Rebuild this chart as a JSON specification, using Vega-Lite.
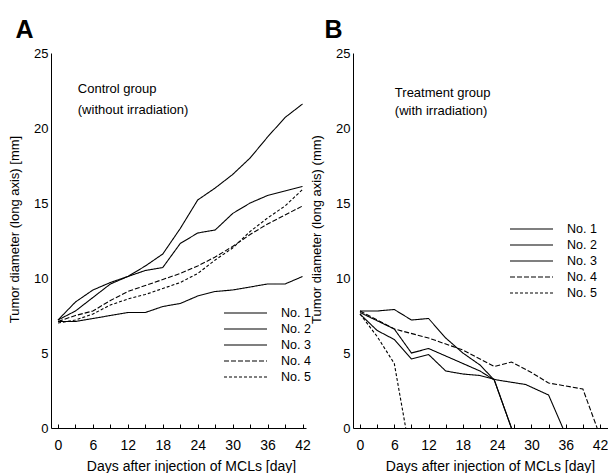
{
  "$schema": "https://vega.github.io/schema/vega-lite/v6.json",
  "padding": {"left": 8, "top": 18, "right": 0, "bottom": 0},
  "autosize": {"type": "pad"},
  "background": "white",
  "spacing": -1,
  "config": {
    "font": "Liberation Sans",
    "view": {"stroke": null},
    "axis": {"domainColor": "black", "tickColor": "black", "labelColor": "black", "titleColor": "black", "grid": false, "labelFont": "Liberation Sans", "titleFont": "Liberation Sans", "titleFontWeight": "normal", "labelOverlap": false, "labelFlush": false},
    "title": {"font": "Liberation Sans", "fontSize": 25, "fontWeight": "bold", "anchor": "start", "frame": "bounds", "color": "black"},
    "legend": {"orient": "none", "title": null, "padding": 0, "symbolType": "stroke", "symbolSize": 1850, "symbolStrokeWidth": 1.1, "symbolStrokeColor": "black", "clipHeight": 16, "rowPadding": 0, "labelOffset": 13, "labelFontSize": 12.5, "labelColor": "black", "labelFont": "Liberation Sans"}
  },
  "datasets": {
    "control": [
      {"mouse": "No. 1", "day": 0, "mm": 7.2}, {"mouse": "No. 1", "day": 3, "mm": 8.4}, {"mouse": "No. 1", "day": 6, "mm": 9.2}, {"mouse": "No. 1", "day": 9, "mm": 9.7}, {"mouse": "No. 1", "day": 12, "mm": 10.1}, {"mouse": "No. 1", "day": 15, "mm": 10.8}, {"mouse": "No. 1", "day": 18, "mm": 11.6}, {"mouse": "No. 1", "day": 21, "mm": 13.3}, {"mouse": "No. 1", "day": 24, "mm": 15.2}, {"mouse": "No. 1", "day": 27, "mm": 16.0}, {"mouse": "No. 1", "day": 30, "mm": 16.9}, {"mouse": "No. 1", "day": 33, "mm": 18.0}, {"mouse": "No. 1", "day": 36, "mm": 19.4}, {"mouse": "No. 1", "day": 39, "mm": 20.7}, {"mouse": "No. 1", "day": 42, "mm": 21.6},
      {"mouse": "No. 2", "day": 0, "mm": 7.2}, {"mouse": "No. 2", "day": 3, "mm": 7.8}, {"mouse": "No. 2", "day": 6, "mm": 8.7}, {"mouse": "No. 2", "day": 9, "mm": 9.6}, {"mouse": "No. 2", "day": 12, "mm": 10.1}, {"mouse": "No. 2", "day": 15, "mm": 10.5}, {"mouse": "No. 2", "day": 18, "mm": 10.7}, {"mouse": "No. 2", "day": 21, "mm": 12.3}, {"mouse": "No. 2", "day": 24, "mm": 13.0}, {"mouse": "No. 2", "day": 27, "mm": 13.2}, {"mouse": "No. 2", "day": 30, "mm": 14.3}, {"mouse": "No. 2", "day": 33, "mm": 15.0}, {"mouse": "No. 2", "day": 36, "mm": 15.5}, {"mouse": "No. 2", "day": 39, "mm": 15.8}, {"mouse": "No. 2", "day": 42, "mm": 16.1},
      {"mouse": "No. 3", "day": 0, "mm": 7.1}, {"mouse": "No. 3", "day": 3, "mm": 7.1}, {"mouse": "No. 3", "day": 6, "mm": 7.3}, {"mouse": "No. 3", "day": 9, "mm": 7.5}, {"mouse": "No. 3", "day": 12, "mm": 7.7}, {"mouse": "No. 3", "day": 15, "mm": 7.7}, {"mouse": "No. 3", "day": 18, "mm": 8.1}, {"mouse": "No. 3", "day": 21, "mm": 8.3}, {"mouse": "No. 3", "day": 24, "mm": 8.8}, {"mouse": "No. 3", "day": 27, "mm": 9.1}, {"mouse": "No. 3", "day": 30, "mm": 9.2}, {"mouse": "No. 3", "day": 33, "mm": 9.4}, {"mouse": "No. 3", "day": 36, "mm": 9.6}, {"mouse": "No. 3", "day": 39, "mm": 9.6}, {"mouse": "No. 3", "day": 42, "mm": 10.1},
      {"mouse": "No. 4", "day": 0, "mm": 7.1}, {"mouse": "No. 4", "day": 3, "mm": 7.5}, {"mouse": "No. 4", "day": 6, "mm": 7.8}, {"mouse": "No. 4", "day": 9, "mm": 8.5}, {"mouse": "No. 4", "day": 12, "mm": 9.1}, {"mouse": "No. 4", "day": 15, "mm": 9.5}, {"mouse": "No. 4", "day": 18, "mm": 9.9}, {"mouse": "No. 4", "day": 21, "mm": 10.3}, {"mouse": "No. 4", "day": 24, "mm": 10.8}, {"mouse": "No. 4", "day": 27, "mm": 11.4}, {"mouse": "No. 4", "day": 30, "mm": 12.1}, {"mouse": "No. 4", "day": 33, "mm": 12.9}, {"mouse": "No. 4", "day": 36, "mm": 13.6}, {"mouse": "No. 4", "day": 39, "mm": 14.2}, {"mouse": "No. 4", "day": 42, "mm": 14.8},
      {"mouse": "No. 5", "day": 0, "mm": 7.0}, {"mouse": "No. 5", "day": 3, "mm": 7.2}, {"mouse": "No. 5", "day": 6, "mm": 7.6}, {"mouse": "No. 5", "day": 9, "mm": 8.2}, {"mouse": "No. 5", "day": 12, "mm": 8.6}, {"mouse": "No. 5", "day": 15, "mm": 8.9}, {"mouse": "No. 5", "day": 18, "mm": 9.3}, {"mouse": "No. 5", "day": 21, "mm": 9.7}, {"mouse": "No. 5", "day": 24, "mm": 10.3}, {"mouse": "No. 5", "day": 27, "mm": 11.2}, {"mouse": "No. 5", "day": 30, "mm": 12.0}, {"mouse": "No. 5", "day": 33, "mm": 13.1}, {"mouse": "No. 5", "day": 36, "mm": 14.0}, {"mouse": "No. 5", "day": 39, "mm": 14.8}, {"mouse": "No. 5", "day": 42, "mm": 15.9}
    ],
    "treatment": [
      {"mouse": "No. 1", "day": 0, "mm": 7.8}, {"mouse": "No. 1", "day": 3, "mm": 7.8}, {"mouse": "No. 1", "day": 6, "mm": 7.9}, {"mouse": "No. 1", "day": 9, "mm": 7.2}, {"mouse": "No. 1", "day": 12, "mm": 7.3}, {"mouse": "No. 1", "day": 15, "mm": 6.0}, {"mouse": "No. 1", "day": 18, "mm": 5.0}, {"mouse": "No. 1", "day": 21, "mm": 4.2}, {"mouse": "No. 1", "day": 23.5, "mm": 3.2}, {"mouse": "No. 1", "day": 26.5, "mm": 0},
      {"mouse": "No. 2", "day": 0, "mm": 7.6}, {"mouse": "No. 2", "day": 3, "mm": 6.5}, {"mouse": "No. 2", "day": 6, "mm": 5.9}, {"mouse": "No. 2", "day": 9, "mm": 4.6}, {"mouse": "No. 2", "day": 12, "mm": 4.9}, {"mouse": "No. 2", "day": 15, "mm": 3.8}, {"mouse": "No. 2", "day": 18, "mm": 3.6}, {"mouse": "No. 2", "day": 21, "mm": 3.5}, {"mouse": "No. 2", "day": 24, "mm": 3.2}, {"mouse": "No. 2", "day": 29, "mm": 2.9}, {"mouse": "No. 2", "day": 33, "mm": 2.2}, {"mouse": "No. 2", "day": 35.5, "mm": 0},
      {"mouse": "No. 3", "day": 0, "mm": 7.7}, {"mouse": "No. 3", "day": 6, "mm": 6.6}, {"mouse": "No. 3", "day": 9, "mm": 5.0}, {"mouse": "No. 3", "day": 12, "mm": 5.3}, {"mouse": "No. 3", "day": 15, "mm": 4.8}, {"mouse": "No. 3", "day": 18, "mm": 4.3}, {"mouse": "No. 3", "day": 21, "mm": 3.8}, {"mouse": "No. 3", "day": 23.5, "mm": 3.2}, {"mouse": "No. 3", "day": 26.5, "mm": 0},
      {"mouse": "No. 4", "day": 0, "mm": 7.8}, {"mouse": "No. 4", "day": 6, "mm": 6.6}, {"mouse": "No. 4", "day": 12, "mm": 6.0}, {"mouse": "No. 4", "day": 18, "mm": 5.2}, {"mouse": "No. 4", "day": 23.5, "mm": 4.1}, {"mouse": "No. 4", "day": 26.5, "mm": 4.4}, {"mouse": "No. 4", "day": 30, "mm": 3.7}, {"mouse": "No. 4", "day": 33, "mm": 3.0}, {"mouse": "No. 4", "day": 39, "mm": 2.6}, {"mouse": "No. 4", "day": 41.5, "mm": 0},
      {"mouse": "No. 5", "day": 0, "mm": 7.6}, {"mouse": "No. 5", "day": 3, "mm": 6.1}, {"mouse": "No. 5", "day": 6, "mm": 4.3}, {"mouse": "No. 5", "day": 8, "mm": 0}
    ]
  },
  "hconcat": [
    {
      "width": 255,
      "height": 375,
      "title": {"text": "A", "dx": 7, "offset": 4},
      "layer": [
        {
          "data": {"name": "control"},
          "mark": {"type": "line", "color": "black", "strokeWidth": 1.1},
          "encoding": {
            "x": {"field": "day", "type": "quantitative", "scale": {"domain": [-1.2, 42.6], "nice": false, "zero": false},
              "axis": {"values": [0, 3, 6, 9, 12, 15, 18, 21, 24, 27, 30, 33, 36, 39, 42], "tickCount": 30, "labelExpr": "datum.value % 6 === 0 ? datum.label : ''", "labelOverlap": false, "tickSize": -4, "labelPadding": 14, "labelFontSize": 14, "title": "Days after  injection of MCLs [day]", "titleFontSize": 14, "titleX": 140, "titleY": 38, "titleBaseline": "middle", "titleAlign": "center"}},
            "y": {"field": "mm", "type": "quantitative", "scale": {"domain": [0, 25], "nice": false},
              "axis": {"values": [0, 5, 10, 15, 20, 25], "ticks": false, "labelPadding": 3, "labelFontSize": 13, "title": "Tumor diameter (long axis) [mm]", "titleFontSize": 13, "titlePadding": 12, "titleY": 176}},
            "strokeDash": {"field": "mouse", "type": "nominal", "scale": {"domain": ["No. 1", "No. 2", "No. 3", "No. 4", "No. 5"], "range": [[1, 0], [1, 0], [1, 0], [5, 2], [3, 2]]},
              "legend": {"legendX": 172, "legendY": 252}}
          }
        },
        {
          "data": {"values": [{"group": "control"}]},
          "mark": {"type": "text", "align": "left", "baseline": "top", "fontSize": 13, "lineHeight": 21, "color": "black", "text": ["Control group", "(without irradiation)"]},
          "encoding": {"x": {"datum": 3.4}, "y": {"datum": 23.0}}
        }
      ]
    },
    {
      "width": 255,
      "height": 375,
      "title": {"text": "B", "dx": 14, "offset": 4},
      "layer": [
        {
          "data": {"name": "treatment"},
          "mark": {"type": "line", "color": "black", "strokeWidth": 1.1},
          "encoding": {
            "x": {"field": "day", "type": "quantitative", "scale": {"domain": [-1.225, 43.4], "nice": false, "zero": false},
              "axis": {"values": [0, 3, 6, 9, 12, 15, 18, 21, 24, 27, 30, 33, 36, 39, 42], "tickCount": 30, "labelExpr": "datum.value % 6 === 0 ? datum.label : ''", "labelOverlap": false, "tickSize": -4, "labelPadding": 14, "labelFontSize": 14, "title": "Days after injection of MCLs [day]", "titleFontSize": 14, "titleX": 137, "titleY": 38, "titleBaseline": "middle", "titleAlign": "center"}},
            "y": {"field": "mm", "type": "quantitative", "scale": {"domain": [0, 25], "nice": false},
              "axis": {"values": [0, 5, 10, 15, 20, 25], "ticks": false, "labelPadding": 3, "labelFontSize": 13, "title": "Tumor diameter (long axis) (mm)", "titleFontSize": 13, "titlePadding": 12, "titleY": 176}},
            "strokeDash": {"field": "mouse", "type": "nominal", "scale": {"domain": ["No. 1", "No. 2", "No. 3", "No. 4", "No. 5"], "range": [[1, 0], [1, 0], [1, 0], [5, 2], [3, 2]]},
              "legend": {"legendX": 156, "legendY": 168}}
          }
        },
        {
          "data": {"values": [{"group": "treatment"}]},
          "mark": {"type": "text", "align": "left", "baseline": "top", "fontSize": 13, "lineHeight": 18, "color": "black", "text": ["Treatment group", "(with irradiation)"]},
          "encoding": {"x": {"datum": 6.1}, "y": {"datum": 22.73}}
        }
      ]
    }
  ],
  "resolve": {"scale": {"strokeDash": "independent"}, "legend": {"strokeDash": "independent"}}
}
